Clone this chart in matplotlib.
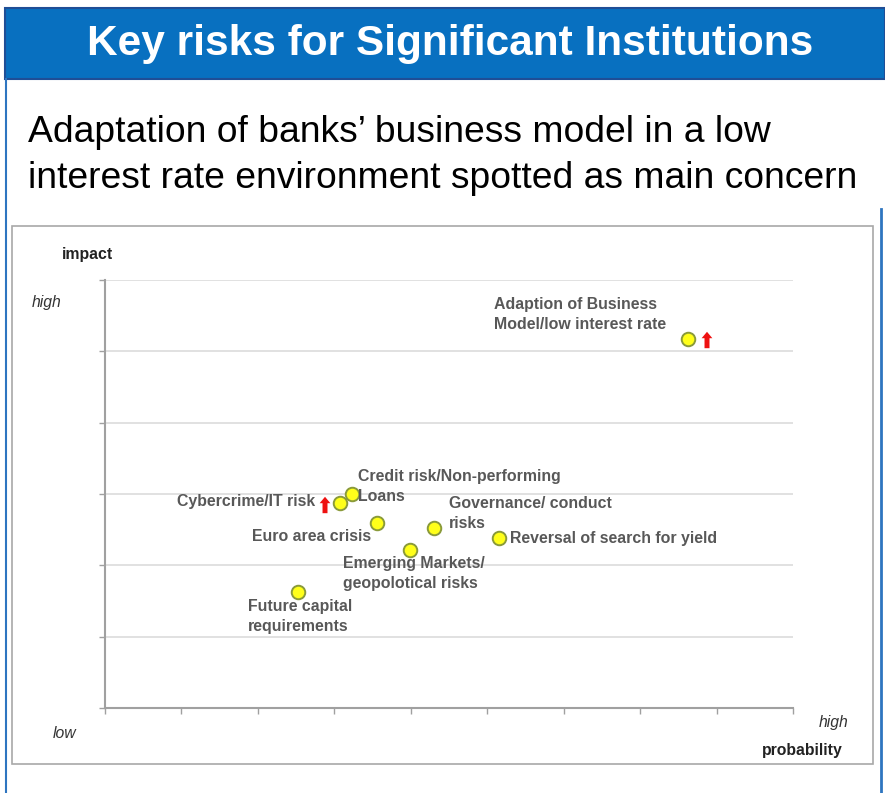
import matplotlib.pyplot as plt
from matplotlib.patches import Rectangle
from matplotlib.lines import Line2D

# risk map data (probability, impact), scale 0-9 / 0-6
risks = ["Adaption of Business\nModel/low interest rate",
         "Credit risk/Non-performing\nLoans",
         "Cybercrime/IT risk",
         "Euro area crisis",
         "Governance/ conduct\nrisks",
         "Reversal of search for yield",
         "Emerging Markets/\ngeopolotical risks",
         "Future capital\nrequirements"]
probability = [7.63, 3.23, 3.07, 3.56, 4.31, 5.15, 3.99, 2.52]
impact = [5.17, 3.00, 2.87, 2.60, 2.53, 2.38, 2.21, 1.62]

# label anchor offsets (data units) and alignment
label_dx = [-2.54, 0.08, -0.32, -0.08, 0.19, 0.15, -0.88, -0.65]
label_dy = [0.35, 0.10, 0.02, -0.20, 0.20, 0.00, -0.32, -0.34]
label_ha = ["left", "left", "right", "right", "left", "left", "left", "left"]

# rising-risk arrows
arrow_x = [7.875, 2.878]
arrow_y = [5.159, 2.846]

W, H = 885, 793
fig = plt.figure(figsize=(W / 100, H / 100), dpi=100)
plt.rcParams['font.family'] = ['Liberation Sans', 'DejaVu Sans']


def fx(x):
    return x / W


def fy(y):
    return 1 - y / H


# header bar and page border
fig.patches.append(Rectangle((fx(5), fy(79)), fx(880), 71 / H, transform=fig.transFigure,
                             facecolor='#0870C0', edgecolor='#1F4E96', lw=1.5))
fig.lines.append(Line2D([fx(6), fx(6)], [fy(79), 0], transform=fig.transFigure,
                        color='#2E75C0', lw=1.5))
fig.lines.append(Line2D([fx(881), fx(881)], [fy(209), 0], transform=fig.transFigure,
                        color='#2E75C0', lw=2))
# inner chart frame
fig.patches.append(Rectangle((fx(12), fy(764)), (873 - 12) / W, (764 - 226) / H,
                             transform=fig.transFigure, facecolor='white',
                             edgecolor='#A8A8A8', lw=1.2, zorder=0))

fig.text(fx(450), fy(44), "Key risks for Significant Institutions", color='white',
         fontsize=30.5, fontweight='bold', ha='center', va='center')
fig.text(fx(28), fy(133), "Adaptation of banks\u2019 business model in a low",
         fontsize=26.8, ha='left', va='center')
fig.text(fx(28), fy(178), "interest rate environment spotted as main concern",
         fontsize=26.8, ha='left', va='center')

ax = fig.add_axes([fx(105), fy(708), (793 - 105) / W, (708 - 280) / H])
ax.set_zorder(2)
ax.set_xlim(0, 9)
ax.set_ylim(0, 6)
ax.set_facecolor('none')
for s in ['top', 'right']:
    ax.spines[s].set_visible(False)
for s in ['left', 'bottom']:
    ax.spines[s].set_color('#A0A0A0')
    ax.spines[s].set_linewidth(1.5)
ax.set_xticks(range(10))
ax.set_yticks(range(7))
ax.set_xticklabels([])
ax.set_yticklabels([])
ax.tick_params(axis='both', length=4, color='#A0A0A0', width=1)
ax.tick_params(axis='x', direction='out')
for yv in range(1, 7):
    ax.axhline(yv, color='#DCDCDC', lw=1.2, zorder=0)

ax.scatter(probability, impact, s=95, facecolor='#FFFF1A', edgecolor='#8A9A3A',
           linewidth=1.4, zorder=3, clip_on=False)

tc = '#585858'
for name, px, py, dx, dy, ha in zip(risks, probability, impact, label_dx, label_dy, label_ha):
    ax.text(px + dx, py + dy, name, ha=ha, va='center', fontsize=11.4,
            fontweight='bold', color=tc, linespacing=1.42, zorder=4)

for axx, ayy in zip(arrow_x, arrow_y):
    ax.arrow(axx, ayy - 0.115, 0, 0.23, width=0.065, head_width=0.14,
             head_length=0.09, length_includes_head=True,
             facecolor='#EE1111', edgecolor='none', zorder=4)

# axis annotations
fig.text(fx(62), fy(255), "impact", fontsize=11.4, fontweight='bold', color='#222222',
         ha='left', va='center')
fig.text(fx(32), fy(302), "high", fontsize=11.3, style='italic', color='#333333',
         ha='left', va='center')
fig.text(fx(53), fy(733), "low", fontsize=11.3, style='italic', color='#333333',
         ha='left', va='center')
fig.text(fx(848), fy(723), "high", fontsize=11.3, style='italic', color='#333333',
         ha='right', va='center')
fig.text(fx(843), fy(751), "probability", fontsize=11.3, fontweight='bold',
         color='#222222', ha='right', va='center')

fig.savefig("out.png", dpi=100)
